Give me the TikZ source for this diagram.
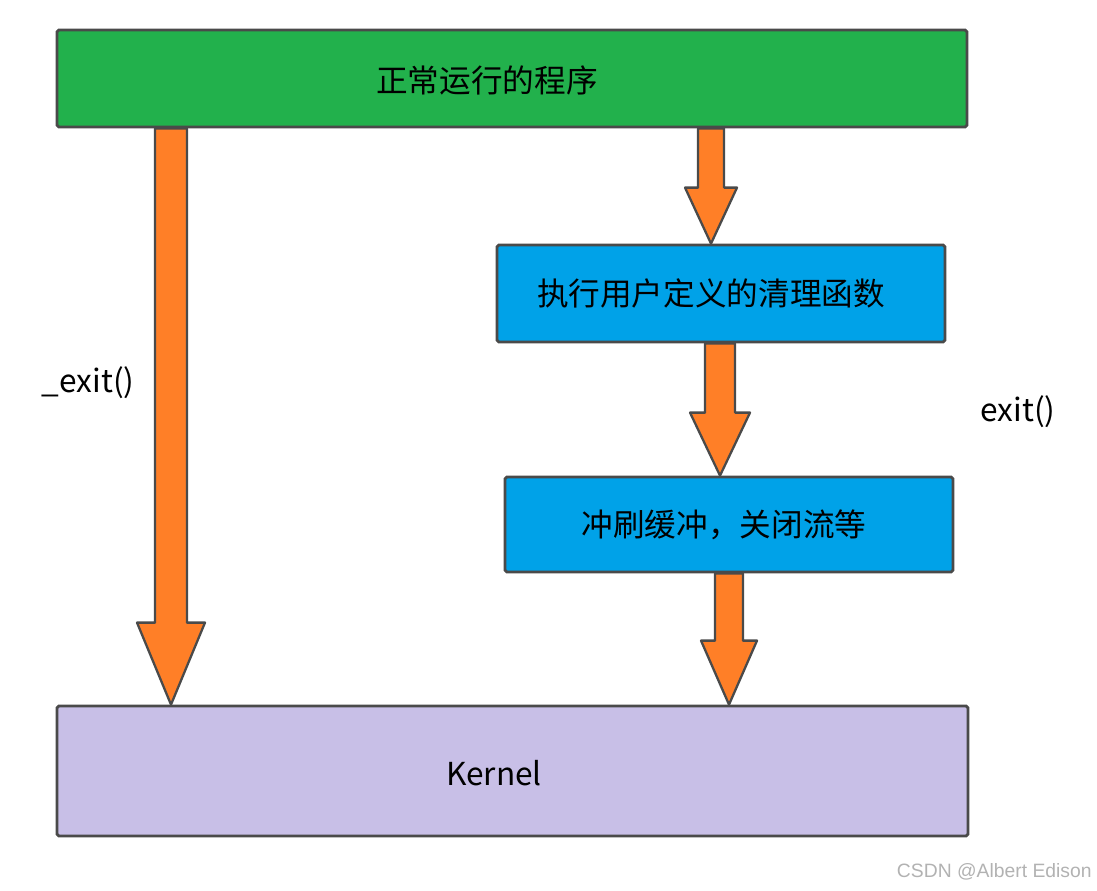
\documentclass[tikz,border=0pt]{standalone}
\usepackage{fontspec}
\setmainfont{Noto Sans CJK SC}
\newfontfamily\markfont{Liberation Sans}
\usetikzlibrary{calc}
\definecolor{runGreen}{HTML}{22B14C}
\definecolor{stepBlue}{HTML}{00A2E8}
\definecolor{flowOrange}{HTML}{FF7F27}
\definecolor{kernelLilac}{HTML}{C8BFE7}
\definecolor{penGray}{HTML}{4A4A4A}
\tikzset{
	box/.style={draw=penGray, line width=1.6pt, rounded corners=1pt, inner sep=0pt},
	arrowbody/.style={fill=flowOrange, draw=penGray, line width=1.3pt, line join=round},
	word/.style={font=\fontsize{18}{22}\selectfont, text=black}
}
% from, to, half shaft, half head, head length
\newcommand{\blockarrow}[5]{%
	\filldraw[arrowbody] ($(#1)+(-#3,0)$) -- ($(#2)+(-#3,-#5)$) -- ($(#2)+(-#4,-#5)$) -- (#2)
		-- ($(#2)+(#4,-#5)$) -- ($(#2)+(#3,-#5)$) -- ($(#1)+(#3,0)$) -- cycle;}
\begin{document}
\begin{tikzpicture}[x=0.02cm, y=-0.02cm]
					\useasboundingbox (0,0) rectangle (1097,890);
					
					\node[box, fill=runGreen, minimum width=18.2cm, minimum height=1.94cm] (green) at (512,78.5) {};
					\node[word] (greentext) at (487,80) {正常运行的程序};
					
					\node[box, fill=stepBlue, minimum width=8.96cm, minimum height=1.94cm] (clean) at (721,293.5) {};
					\node[word] (cleantext) at (711,293) {执行用户定义的清理函数};
					\node[box, fill=stepBlue, minimum width=8.96cm, minimum height=1.9cm] (flush) at (729,524.5) {};
					\node[word] (flushtext) at (724,525) {冲刷缓冲，关闭流等};
					
					\node[box, fill=kernelLilac, minimum width=18.22cm, minimum height=2.6cm] (kernel) at (512.5,771) {};
					\node[word] (kerneltext) at (494,773) {Kernel};
					
					\coordinate (lx) at (171,0);
					\coordinate (ax) at (711,0);
					\coordinate (bx) at (720,0);
					\coordinate (cx) at (729,0);
					
					\coordinate (l0) at (green.south -| lx);
					\coordinate (l1) at (kernel.north -| lx);
					\coordinate (a0) at (green.south -| ax);
					\coordinate (a1) at (clean.north -| ax);
					\coordinate (b0) at (clean.south -| bx);
					\coordinate (b1) at (flush.north -| bx);
					\coordinate (c0) at (flush.south -| cx);
					\coordinate (c1) at (kernel.north -| cx);
					
					\blockarrow{l0}{l1}{16}{34}{82}
					\blockarrow{a0}{a1}{13}{26}{56}
					\blockarrow{b0}{b1}{15}{30}{63}
					\blockarrow{c0}{c1}{14}{28}{64}
					
					\node[word] (fastexit) at (88,383) {\_exit()};
					\node[word] (normalexit) at (1018,412) {exit()};
					
					\node[text=black!30, anchor=east, inner sep=0pt, font=\markfont\fontsize{11}{13}\selectfont] (mark) at (1092,872) {CSDN @Albert Edison};
				\end{tikzpicture}
\end{document}
